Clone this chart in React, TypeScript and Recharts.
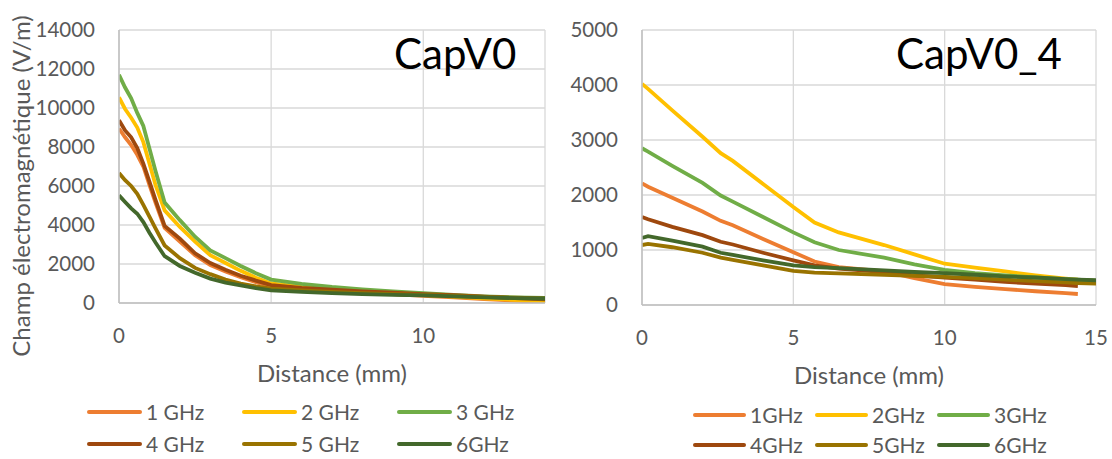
import { LineChart, Line, XAxis, YAxis, CartesianGrid, Label } from "recharts";

const FONT = "Lato, 'Open Sans', sans-serif";
const TICK = "#595959";
const GRID = "#D9D9D9";
const AXIS = "#BFBFBF";
const COLORS = ["#ED7D31", "#FFC000", "#70AD47", "#9E480E", "#997300", "#43682B"];

// CapV0 (left)
const distV0 = [0, 0.2, 0.4, 0.6, 0.8, 1, 1.2, 1.5, 2, 2.5, 3, 3.5, 4, 4.5, 5, 6, 7, 8, 9, 10, 11, 12, 13, 14];
const v0_1GHz = [8950, 8500, 8100, 7600, 7000, 6050, 5150, 3850, 3150, 2450, 1950, 1620, 1320, 1070, 850, 720, 620, 540, 450, 370, 290, 200, 120, 50];
const v0_2GHz = [10550, 9950, 9500, 9000, 8250, 7150, 6050, 4750, 3900, 3150, 2450, 2050, 1650, 1300, 1000, 830, 700, 600, 500, 420, 330, 240, 160, 100];
const v0_3GHz = [11700, 11050, 10500, 9750, 9080, 7920, 6770, 5150, 4250, 3400, 2700, 2300, 1900, 1530, 1200, 980, 820, 700, 600, 500, 420, 340, 290, 260];
const v0_4GHz = [9370, 8850, 8500, 7950, 7150, 6220, 5290, 3950, 3300, 2550, 2050, 1700, 1400, 1150, 920, 780, 680, 600, 530, 460, 400, 320, 250, 190];
const v0_5GHz = [6670, 6300, 6000, 5600, 5030, 4430, 3830, 2950, 2300, 1800, 1480, 1200, 1000, 850, 740, 640, 570, 510, 460, 410, 360, 310, 270, 240];
const v0_6GHz = [5520, 5180, 4850, 4580, 4150, 3600, 3100, 2400, 1900, 1550, 1250, 1050, 900, 760, 650, 570, 510, 460, 420, 390, 340, 290, 250, 230];
const namesV0 = ["1 GHz", "2 GHz", "3 GHz", "4 GHz", "5 GHz", "6GHz"];
const xTicksV0 = [0, 5, 10];
const yTicksV0 = [0, 2000, 4000, 6000, 8000, 10000, 12000, 14000];

// CapV0_4 (right)
const distV04 = [0, 0.2, 1, 2, 2.6, 3, 4, 5, 5.7, 6.5, 8, 9, 10, 11, 12, 13, 14, 14.4, 15];
const v04_1GHz = [2210, 2150, 1950, 1700, 1530, 1450, 1200, 960, 790, 690, 610, 490, 380, 330, 290, 250, 215, 200, null];
const v04_2GHz = [4020, 3930, 3540, 3060, 2760, 2620, 2200, 1780, 1500, 1320, 1090, 920, 750, 680, 610, 540, 480, 460, 440];
const v04_3GHz = [2850, 2790, 2530, 2220, 1990, 1880, 1600, 1320, 1140, 1000, 860, 740, 640, 580, 540, 500, 470, 460, 440];
const v04_4GHz = [1600, 1560, 1420, 1270, 1150, 1100, 950, 810, 720, 660, 600, 540, 500, 460, 420, 390, 360, 345, null];
const v04_5GHz = [1090, 1110, 1050, 950, 860, 820, 720, 620, 590, 575, 550, 530, 510, 490, 460, 435, 410, 400, 390];
const v04_6GHz = [1220, 1250, 1170, 1060, 950, 910, 810, 720, 690, 670, 630, 600, 580, 550, 520, 500, 470, 460, 450];
const namesV04 = ["1GHz", "2GHz", "3GHz", "4GHz", "5GHz", "6GHz"];
const xTicksV04 = [0, 5, 10, 15];
const yTicksV04 = [0, 1000, 2000, 3000, 4000, 5000];

function buildRows(dist: number[], series: (number | null)[][]) {
  return dist.map((d, i) => {
    const row: Record<string, number | null> = { d };
    series.forEach((s, k) => (row["s" + k] = s[i]));
    return row;
  });
}

const dataV0 = buildRows(distV0, [v0_1GHz, v0_2GHz, v0_3GHz, v0_4GHz, v0_5GHz, v0_6GHz]);
const dataV04 = buildRows(distV04, [v04_1GHz, v04_2GHz, v04_3GHz, v04_4GHz, v04_5GHz, v04_6GHz]);

const tickStyle = { fill: TICK, fontSize: 20.5, fontFamily: FONT };

function Legend2x3({ names, left, top, colW, lineW, rowGap }: any) {
  return (
    <div style={{ position: "absolute", left, top, fontFamily: FONT, fontSize: 21, color: TICK }}>
      {names.map((n: string, i: number) => (
        <div
          key={n}
          style={{
            position: "absolute",
            left: (i % 3) * colW,
            top: Math.floor(i / 3) * rowGap,
            display: "flex",
            alignItems: "center",
            whiteSpace: "nowrap",
            height: 26,
            lineHeight: "26px",
          }}
        >
          <span style={{ display: "inline-block", width: lineW, height: 4, borderRadius: 2, background: COLORS[i], marginRight: 4 }} />
          <span>{n}</span>
        </div>
      ))}
    </div>
  );
}

function Chart({ data, names, xDomain, xTicks, yDomain, yTicks, yWidth, xHeight, width, marginRight }: any) {
  return (
    <LineChart width={width} height={459} data={data} margin={{ top: 30, right: marginRight, left: 0, bottom: 0 }}>
      <CartesianGrid stroke={GRID} strokeWidth={1.3} />
      <XAxis
        dataKey="d"
        type="number"
        domain={xDomain}
        ticks={xTicks}
        allowDataOverflow
        tickLine={false}
        axisLine={{ stroke: AXIS, strokeWidth: 1.5 }}
        tick={tickStyle}
        tickMargin={19}
        height={xHeight}
      >
        <Label value="Distance (mm)" position="insideTop" offset={62} fill={TICK} fontSize={24} fontFamily={FONT} />
      </XAxis>
      <YAxis
        type="number"
        domain={yDomain}
        ticks={yTicks}
        allowDataOverflow
        tickLine={false}
        axisLine={{ stroke: AXIS, strokeWidth: 1.5 }}
        tick={tickStyle}
        tickMargin={18}
        width={yWidth}
      />
      {names.map((n: string, i: number) => (
        <Line
          key={n}
          dataKey={"s" + i}
          name={n}
          type="linear"
          stroke={COLORS[i]}
          strokeWidth={3.8}
          dot={false}
          isAnimationActive={false}
        />
      ))}
    </LineChart>
  );
}

export default function App() {
  return (
    <div style={{ position: "absolute", left: 0, top: 0, width: 1112, height: 459, background: "#fff", overflow: "hidden" }}>
      <div style={{ position: "absolute", left: 0, top: 0 }}>
        <Chart
          data={dataV0}
          names={namesV0}
          xDomain={[0, 14]}
          xTicks={xTicksV0}
          yDomain={[0, 14000]}
          yTicks={yTicksV0}
          yWidth={119}
          xHeight={156}
          width={560}
          marginRight={15}
        />
      </div>
      <div style={{ position: "absolute", left: 560, top: 0 }}>
        <Chart
          data={dataV04}
          names={namesV04}
          xDomain={[0, 15]}
          xTicks={xTicksV04}
          yDomain={[0, 5000]}
          yTicks={yTicksV04}
          yWidth={82}
          xHeight={154}
          width={552}
          marginRight={16}
        />
      </div>
      <div
        style={{
          position: "absolute",
          left: 20,
          top: 186,
          transform: "translate(-50%, -50%) rotate(-90deg)",
          whiteSpace: "nowrap",
          fontFamily: FONT,
          fontSize: 24,
          color: TICK,
        }}
      >
        Champ électromagnétique (V/m)
      </div>
      <div style={{ position: "absolute", left: 394, top: 29, fontFamily: FONT, fontSize: 42, lineHeight: "48px", color: "#000" }}>
        CapV0
      </div>
      <div style={{ position: "absolute", left: 896, top: 29, fontFamily: FONT, fontSize: 42, lineHeight: "48px", color: "#000" }}>
        CapV0_4
      </div>
      <Legend2x3 names={namesV0} left={87} top={399} colW={155} lineW={55} rowGap={32} />
      <Legend2x3 names={namesV04} left={693} top={402} colW={122} lineW={53} rowGap={30} />
    </div>
  );
}
